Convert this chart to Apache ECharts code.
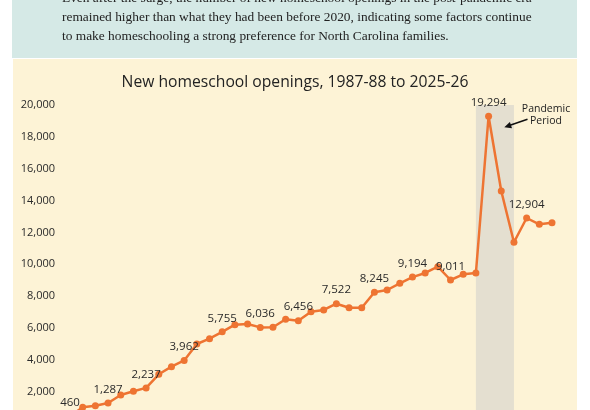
<!DOCTYPE html>
<html>
<head>
<meta charset="utf-8">
<script src="https://cdn.jsdelivr.net/npm/echarts@6/dist/echarts.min.js"></script>
<style>
  html, body { margin: 0; padding: 0; background: #fff; overflow: hidden; height: 410px; }
  #main { width: 590px; height: 430px; }
</style>
</head>
<body>
<div id="main"></div>
<script>
// school years on the x axis
var years = [
  "1987-88", "1988-89", "1989-90", "1990-91", "1991-92", "1992-93", "1993-94",
  "1994-95", "1995-96", "1996-97", "1997-98", "1998-99", "1999-00", "2000-01",
  "2001-02", "2002-03", "2003-04", "2004-05", "2005-06", "2006-07", "2007-08",
  "2008-09", "2009-10", "2010-11", "2011-12", "2012-13", "2013-14", "2014-15",
  "2015-16", "2016-17", "2017-18", "2018-19", "2019-20", "2020-21", "2021-22",
  "2022-23", "2023-24", "2024-25", "2025-26"
];
// new homeschool openings (labelled ones exact)
var openings = [
  460, 1017, 1118, 1287, 1790, 2022, 2237, 3090, 3567, 3962,
  4993, 5326, 5755, 6205, 6249, 6036, 6040, 6544, 6456, 7021,
  7128, 7522, 7272, 7272, 8245, 8384, 8805, 9194, 9451, 9847,
  9011, 9370, 9451, 19294, 14601, 11380, 12904, 12510, 12610
];
// only every third point carries a label
var labelled = [0, 3, 6, 9, 12, 15, 18, 21, 24, 27, 30, 33, 36];
var pandemic = ["2019-20", "2022-23"];

var intro = [
  "Even after the surge, the number of new homeschool openings in the post-pandemic era",
  "remained higher than what they had been before 2020, indicating some factors continue",
  "to make homeschooling a strong preference for North Carolina families."
];

var sans = "'Open Sans', sans-serif";
var serif = "13.4px 'Liberation Serif', serif";
var fmt = function (v) { return Number(v).toLocaleString("en-US"); };

var chart = echarts.init(document.getElementById("main"));

var pts = openings.map(function (v, i) {
  var d = { value: v };
  if (labelled.indexOf(i) >= 0) {
    d.label = { show: true };
  }
  return d;
});

var option = {
  backgroundColor: "#ffffff",
  animation: false,
  graphic: [
    { type: "rect", z: -10, shape: { x: 12, y: 0, width: 565, height: 58 },
      style: { fill: "#d5e9e6" } },
    { type: "rect", z: -10, shape: { x: 13, y: 59, width: 564, height: 380 },
      style: { fill: "#fdf3d6" } },
    { type: "text", left: 62, top: -8,
      style: { text: intro[0], font: serif, fill: "#222" } },
    { type: "text", left: 62, top: 11,
      style: { text: intro[1], font: serif, fill: "#222" } },
    { type: "text", left: 62, top: 30,
      style: { text: intro[2], font: serif, fill: "#222" } },
    // pandemic note, kept above the shaded band
    { type: "text", x: 546, y: 109, z: 100,
      style: { text: "Pandemic", font: "10.5px " + sans, fill: "#222",
               textAlign: "center", textVerticalAlign: "middle" } },
    { type: "text", x: 546, y: 121.5, z: 100,
      style: { text: "Period", font: "10.5px " + sans, fill: "#222",
               textAlign: "center", textVerticalAlign: "middle" } },
    { type: "line", z: 100, shape: { x1: 527.5, y1: 119.3, x2: 510, y2: 125.2 },
      style: { stroke: "#111", lineWidth: 1.6 } },
    { type: "polygon", z: 100, shape: { points: [[504.3, 127.3], [509.9, 122], [512, 128.2]] },
      style: { fill: "#111" } }
  ],
  title: {
    text: "New homeschool openings, 1987-88 to 2025-26",
    left: "center",
    top: 70,
    textStyle: { fontFamily: sans, fontSize: 15.7, fontWeight: "normal", color: "#222" }
  },
  grid: { left: 70, right: 38, top: 105, bottom: 6.5 },
  xAxis: {
    type: "category",
    data: years,
    boundaryGap: false,
    show: false
  },
  yAxis: {
    type: "value",
    min: 0,
    max: 20000,
    interval: 2000,
    axisLine: { show: false },
    axisTick: { show: false },
    splitLine: { show: false },
    axisLabel: {
      margin: 15,
      color: "#2a2a2a",
      fontFamily: sans,
      fontSize: 11,
      formatter: fmt
    }
  },
  series: [
    {
      type: "line",
      data: pts,
      symbol: "circle",
      symbolSize: 7,
      lineStyle: { color: "#ee7432", width: 2.5 },
      itemStyle: { color: "#ee7432" },
      label: {
        show: false,
        position: "top",
        distance: 4,
        color: "#2a2a2a",
        fontFamily: sans,
        fontSize: 11.5,
        formatter: function (p) { return fmt(p.value); }
      },
      markArea: {
        silent: true,
        itemStyle: { color: "#e4dfd0" },
        data: [[
          { xAxis: pandemic[0], yAxis: 20000 },
          { xAxis: pandemic[1], yAxis: 0 }
        ]]
      }
    }
  ]
};

chart.setOption(option);
</script>
</body>
</html>
